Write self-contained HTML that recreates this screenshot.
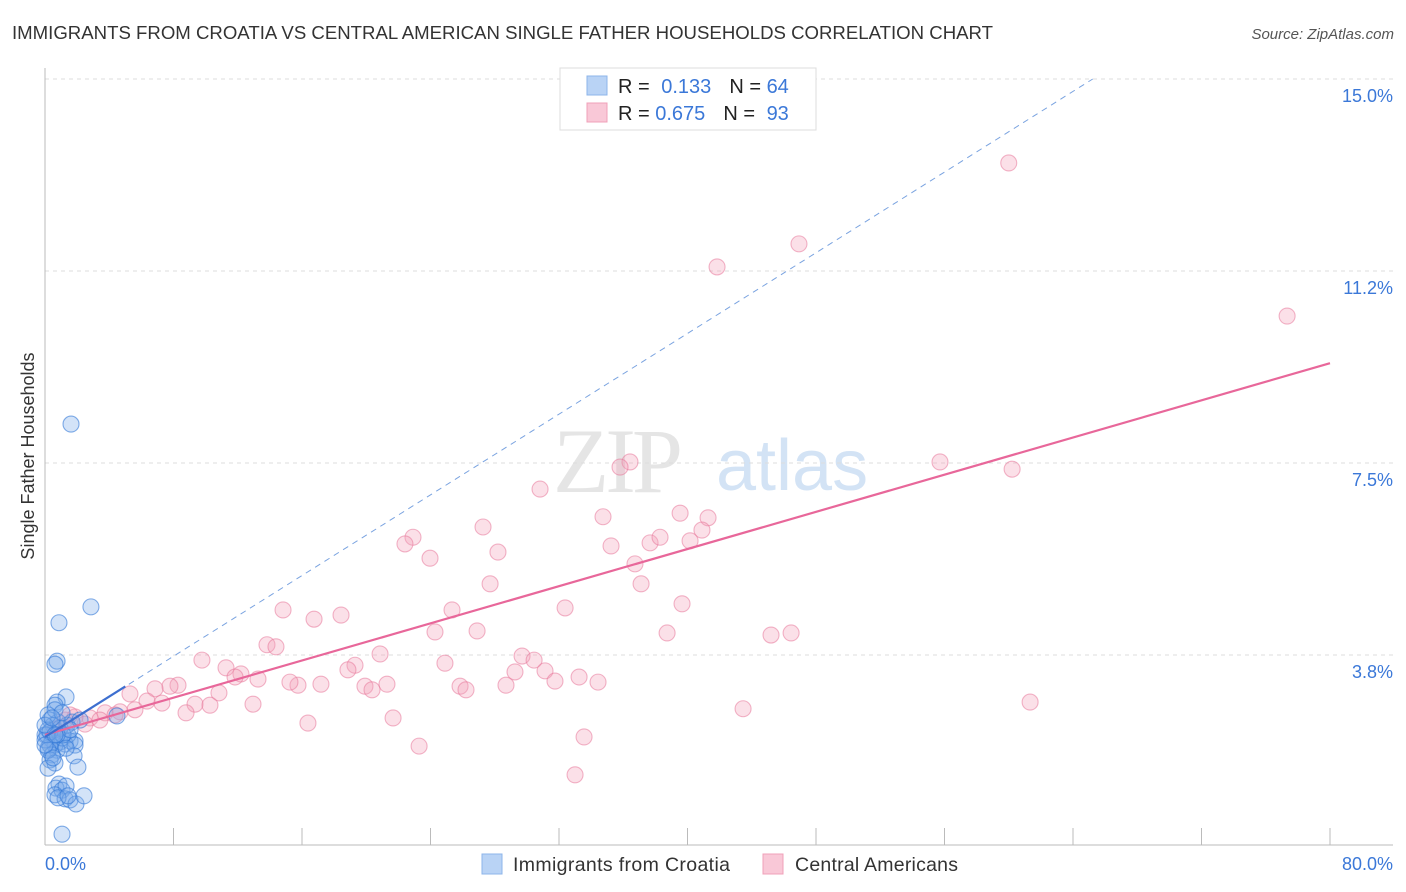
<!DOCTYPE html>
<html><head><meta charset="utf-8">
<style>
body{margin:0;background:#fff;font-family:"Liberation Sans",sans-serif;}
svg{display:block}
</style></head>
<body>
<svg id="chart" width="1406" height="892" xmlns="http://www.w3.org/2000/svg">
<text x="12" y="39" font-size="18" fill="#333" textLength="981" lengthAdjust="spacingAndGlyphs">IMMIGRANTS FROM CROATIA VS CENTRAL AMERICAN SINGLE FATHER HOUSEHOLDS CORRELATION CHART</text>
<text x="1394" y="39" font-size="15" fill="#555" font-style="italic" text-anchor="end">Source: ZipAtlas.com</text>
<g opacity="0.5">
<text x="553" y="492" font-size="92" fill="#ccc" font-family="Liberation Serif,serif" letter-spacing="-4">ZIP</text>
<text x="716" y="490" font-size="72" fill="#a9c8ec">atlas</text>
</g>
<g id="grid"></g>
<g id="axes"></g>
<g id="lines"></g>
<g id="pts"></g>
<text transform="translate(34,456) rotate(-90)" font-size="18" fill="#333" text-anchor="middle">Single Father Households</text>
<g>
<rect x="560" y="68" width="256" height="62" fill="#fff" stroke="#ddd"/>
<rect x="587" y="76" width="20" height="19" fill="#b9d3f5" stroke="#8db4ea"/>
<rect x="587" y="103" width="20" height="19" fill="#f9c8d7" stroke="#f0a0b8"/>
<text x="618" y="93" font-size="20" fill="#222">R = <tspan fill="#3b78d8" dx="6">0.133</tspan><tspan dx="18" fill="#222">N = </tspan><tspan fill="#3b78d8">64</tspan></text>
<text x="618" y="120" font-size="20" fill="#222">R = <tspan fill="#3b78d8">0.675</tspan><tspan dx="18" fill="#222">N = </tspan><tspan fill="#3b78d8" dx="6">93</tspan></text>
</g>
<g>
<rect x="482" y="854" width="20" height="20" fill="#b9d3f5" stroke="#8db4ea"/>
<text x="513" y="871" font-size="19.5" fill="#333" textLength="217">Immigrants from Croatia</text>
<rect x="763" y="854" width="20" height="20" fill="#f9c8d7" stroke="#f0a0b8"/>
<text x="795" y="871" font-size="19.5" fill="#333" textLength="163">Central Americans</text>
</g>
</svg>
<script>
const xTicks=[0,8,16,24,32,40,48,56,64,72,80];
const xLabels=["0.0%","80.0%"];
const yTicks=[3.75,7.5,11.25,15];
const yLabels=["3.8%","7.5%","11.2%","15.0%"];
const blueX=[1.62,2.86,0.87,0.75,0.62,1.31,0.75,0.62,4.48,0.31,0.50,0.19,0,0.44,0.93,1.56,1.87,1.25,0.19,0.62,0.75,1.06,1.43,1.87,0.93,1.37,0.31,0.44,1.81,2.05,0.31,0.62,0.19,0.87,0.68,1.06,1.31,0.62,1.25,1.56,1.93,2.43,1.06,0,0.12,0.31,0.81,1.68,2.18,0.19,0.62,1.06,0,0.44,1.12,1.56,0.75,0.19,0.50,1.31,0.81,1.43,0,0.62];
const blueY=[8.26,4.69,4.38,3.63,3.57,2.93,2.83,2.77,2.56,2.48,2.38,2.29,2.19,2.09,2.05,2.07,2.07,2.01,1.93,1.99,1.89,2.13,2.19,1.99,2.32,2.38,1.99,1.80,1.78,1.56,1.70,1.64,1.54,1.23,1.15,1.11,1.19,1.02,0.94,0.92,0.84,1.00,0.25,2.09,2.19,2.25,2.44,2.44,2.48,2.58,2.68,2.62,2.38,2.52,2.19,2.29,2.19,1.89,1.74,1.93,0.96,1.00,1.99,2.19];
const pinkX=[60.0,46.94,41.84,77.33,55.72,60.21,36.42,35.80,30.82,27.27,34.74,39.54,41.28,40.90,40.16,37.67,38.29,35.24,22.91,22.41,28.20,23.97,36.73,37.11,27.71,32.38,39.66,25.34,18.43,16.75,14.82,24.28,26.90,38.73,45.20,46.45,13.82,14.38,20.86,29.70,30.45,9.77,24.90,19.30,18.86,11.27,12.20,31.13,29.26,33.25,34.43,31.75,21.29,25.84,26.21,28.70,19.92,20.36,17.18,15.75,15.25,13.26,11.83,8.28,7.78,6.85,5.29,10.83,6.35,7.28,12.95,9.34,10.27,8.78,5.60,4.67,3.74,2.80,1.87,2.49,1.25,0.93,21.67,43.46,61.33,16.37,23.29,33.56,33.00,0.62,1.56,4.36,3.42];
const pinkY=[13.36,11.78,11.33,10.37,7.52,7.38,7.52,7.42,6.99,6.25,6.45,6.52,6.43,6.19,5.98,5.94,6.05,5.88,6.05,5.92,5.76,5.64,5.53,5.14,5.14,4.67,4.75,4.63,4.53,4.45,4.63,4.20,4.22,4.18,4.14,4.18,3.95,3.91,3.77,3.73,3.65,3.65,3.59,3.55,3.46,3.50,3.38,3.44,3.42,3.32,3.22,3.24,3.18,3.14,3.07,3.16,3.14,3.07,3.18,3.16,3.22,3.28,3.32,3.16,3.14,3.09,2.99,3.01,2.85,2.81,2.79,2.79,2.77,2.62,2.68,2.64,2.62,2.52,2.54,2.40,2.48,2.34,2.52,2.70,2.83,2.42,1.97,2.15,1.41,2.29,2.58,2.58,2.48];
const pinkTrend=[2.19,9.45];   // y at x=0 and x=80
const blueTrend=[2.15,0.197];  // intercept, slope
const X0=45,X1=1330,Y0=847,PPY=51.2;
const sx=v=>X0+v/80*(X1-X0);
const sy=v=>Y0-v*PPY;
const NS="http://www.w3.org/2000/svg";
function mk(tag,attrs,parent){const e=document.createElementNS(NS,tag);for(const k in attrs)e.setAttribute(k,attrs[k]);parent.appendChild(e);return e;}
const grid=document.getElementById('grid'),axes=document.getElementById('axes'),lines=document.getElementById('lines'),pts=document.getElementById('pts');
yTicks.forEach((t,i)=>{
 const g=mk('line',{x1:X0,x2:1393,y1:sy(t),y2:sy(t),stroke:'#ddd','stroke-dasharray':'4,4'},grid);
 
 
 const l=mk('text',{x:1393,y:sy(t)+23,'font-size':18,fill:'#3b78d8','text-anchor':'end'},axes);
 l.textContent=yLabels[i];
 
 
});
const ya=mk('line',{x1:X0,x2:X0,y1:68,y2:845,stroke:'#bbb'},axes);


const xa=mk('line',{x1:X0,x2:1393,y1:845,y2:845,stroke:'#bbb'},axes);


xTicks.forEach(t=>{
 const k=mk('line',{x1:sx(t),x2:sx(t),y1:828,y2:845,stroke:'#bbb'},axes);
 
 
});
const xl0=mk('text',{x:45,y:870,'font-size':18,fill:'#3b78d8'},axes);xl0.textContent=xLabels[0];


const xl1=mk('text',{x:1393,y:870,'font-size':18,fill:'#3b78d8','text-anchor':'end'},axes);xl1.textContent=xLabels[1];


function dot(x,y,fill,stroke,name){const c=mk('circle',{cx:sx(x),cy:sy(y),r:8,fill:fill,stroke:stroke,'stroke-width':1.1},pts);
 
 }
pinkX.forEach((x,i)=>dot(x,pinkY[i],'rgba(244,160,186,0.33)','rgba(232,120,155,0.55)','point-central-americans'));
blueX.forEach((x,i)=>dot(x,blueY[i],'rgba(120,170,235,0.33)','rgba(50,120,215,0.6)','point-croatia'));
const dxEnd=(15.0-blueTrend[0])/blueTrend[1];
const bd=mk('line',{x1:sx(0),y1:sy(blueTrend[0]),x2:sx(dxEnd),y2:sy(blueTrend[0]+blueTrend[1]*dxEnd),stroke:'#7aa3e0','stroke-width':1,'stroke-dasharray':'6,5'},lines);


const pt=mk('line',{x1:sx(0),y1:sy(pinkTrend[0]),x2:sx(80),y2:sy(pinkTrend[1]),stroke:'#e8679a','stroke-width':2.2},pts);


const bt=mk('line',{x1:sx(0),y1:sy(blueTrend[0]),x2:sx(5),y2:sy(blueTrend[0]+blueTrend[1]*5),stroke:'#3d6fd0','stroke-width':2.2},pts);


</script>
</body></html>
